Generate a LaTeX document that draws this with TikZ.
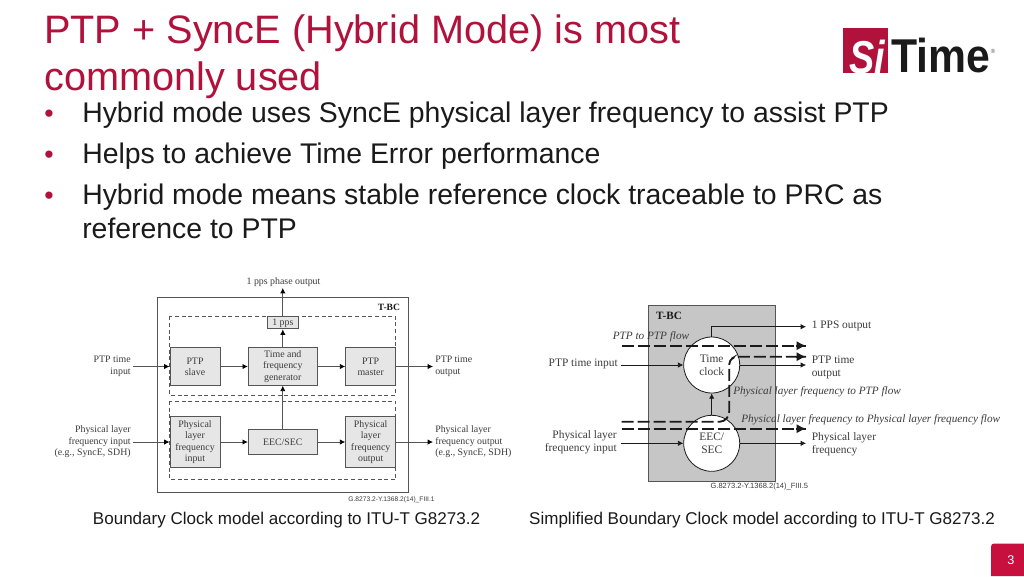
\documentclass[tikz,border=0pt]{standalone}
\usepackage{fontspec}
\setmainfont{Liberation Sans}
\newfontfamily\serifd{Liberation Serif}
\usetikzlibrary{arrows.meta,calc}
\definecolor{brand}{HTML}{B0123B}
\definecolor{pagered}{HTML}{C8103F}
\definecolor{ink}{HTML}{1A1A1A}
\definecolor{dgray}{HTML}{3C3C3C}
\definecolor{lgray}{HTML}{555555}
\definecolor{boxgray}{HTML}{E6E6E6}
\definecolor{panel}{HTML}{C6C6C6}
\tikzset{
 x=0.75pt,y=-0.75pt,
 titlet/.style={inner sep=0,anchor=base west,text=brand,font=\fontsize{29.75}{32}\selectfont},
 bullett/.style={inner sep=0,anchor=base west,text=ink,font=\fontsize{21.3}{24}\selectfont},
 capt/.style={inner sep=0,anchor=base,text=ink,font=\fontsize{12.77}{14}\selectfont},
 srf/.style={inner sep=0,text=dgray,font=\serifd\fontsize{7.4}{8.5}\selectfont,align=center},
 srfr/.style={inner sep=0,text=dgray,font=\serifd\fontsize{8.55}{9.8}\selectfont,align=center},
 flowt/.style={inner sep=0,text=dgray,font=\serifd\itshape\fontsize{8.42}{10}\selectfont,anchor=west},
 ref/.style={inner sep=0,text=dgray},
 gbox/.style={draw=lgray,line width=0.7pt,fill=boxgray,inner sep=0},
 dbox/.style={draw=lgray,line width=0.45pt,dash pattern=on 3pt off 2pt},
 conn/.style={draw=lgray,line width=0.6pt,-{Latex[length=4pt,width=4pt,fill=black,color=black]}},
 thin conn/.style={draw=ink,line width=0.5pt,-{Latex[length=4pt,width=4pt]}},
 flow/.style={draw=ink,line width=1.4pt,dash pattern=on 9pt off 3pt},
 flowhead/.style={draw=ink,line width=1.4pt,-{Latex[length=7pt,width=7pt]}},
 circ/.style={circle,draw=ink,line width=0.6pt,fill=white,minimum size=42pt,inner sep=0},
}
\begin{document}
\begin{tikzpicture}
\useasboundingbox[fill=white] (0,0) rectangle (1024,576);
% title & bullets
\node[titlet] (t1) at (44,43) {PTP + SyncE (Hybrid Mode) is most};
\node[titlet] (t2) at (44,90) {commonly used};
\foreach \y/\n in {122/a,163/b,204/c} \node[inner sep=0,anchor=base west,text=brand,font=\fontsize{20}{24}\selectfont] (d\n) at (44,\y) {•};
\node[bullett] (b1) at (82,122) {Hybrid mode uses SyncE physical layer frequency to assist PTP};
\node[bullett] (b2) at (82,163) {Helps to achieve Time Error performance};
\node[bullett] (b3) at (82,204) {Hybrid mode means stable reference clock traceable to PRC as};
\node[bullett] (b4) at (82,238) {reference to PTP};
% logo
\fill[brand] (843.3,28.3) rectangle (887.7,73.3);
\node[inner sep=0,anchor=base,text=white,font=\bfseries\itshape\fontsize{34.6}{35}\selectfont] (ls) at (867,73) {\scalebox{0.82}[1]{Si}};
\node[inner sep=0,anchor=base west,text=ink,font=\bfseries\fontsize{35.6}{36}\selectfont] (lt) at (891,72.3) {\scalebox{0.9}[1]{Time}};
\node[inner sep=0,anchor=base west,text=lgray,font=\fontsize{4.5}{5}\selectfont] (lr) at (990.5,53) {®};
% left diagram
\draw[draw=lgray,line width=0.6pt] (157.3,297.7) rectangle (408.3,492);
\draw[dbox] (169.7,316.3) rectangle (395.7,395);
\draw[dbox] (169.7,401) rectangle (395.7,479.7);
\node[inner sep=0,text=ink,font=\serifd\bfseries\fontsize{7.2}{8}\selectfont] (tbc1) at (389,307) {T-BC};
\node[gbox,minimum width=50pt*0.75,minimum height=37.6pt*0.75,srf,draw=lgray] (slave) at (195,366.5) {PTP\\slave};
\node[gbox,minimum width=69pt*0.75,minimum height=37.6pt*0.75,srf,draw=lgray] (gen) at (282.8,366.5) {Time and\\frequency\\generator};
\node[gbox,minimum width=50pt*0.75,minimum height=37.6pt*0.75,srf,draw=lgray] (master) at (370.7,366.5) {PTP\\master};
\node[gbox,minimum width=31pt*0.75,minimum height=12.3pt*0.75,srf,draw=lgray] (pps) at (282.8,322.8) {1 pps};
\node[gbox,minimum width=50pt*0.75,minimum height=50.6pt*0.75,srf,draw=lgray] (pin) at (195,442) {Physical\\layer\\frequency\\input};
\node[gbox,minimum width=69pt*0.75,minimum height=25pt*0.75,srf,draw=lgray] (eec) at (282.8,442) {EEC/SEC};
\node[gbox,minimum width=50pt*0.75,minimum height=50.6pt*0.75,srf,draw=lgray] (pout) at (370.7,442) {Physical\\layer\\frequency\\output};
\node[srf] (ppsout) at (283.5,282) {1 pps phase output};
\coordinate (ppstop) at (282.8,288);
\node[srf,align=right,anchor=east] (lptpin) at (131,366.3) {PTP time\\input};
\node[srf,align=right,anchor=east] (lphyin) at (131,441.8) {Physical layer\\frequency input\\(e.g., SyncE, SDH)};
\node[srf,align=left,anchor=west] (lptpout) at (435,366.3) {PTP time\\output};
\node[srf,align=left,anchor=west] (lphyout) at (435,441.8) {Physical layer\\frequency output\\(e.g., SyncE, SDH)};
\coordinate (ci1) at (132.7,366.5); \coordinate (ci2) at (132.7,442);
\coordinate (co1) at (433,366.5); \coordinate (co2) at (433,442);
\draw[conn] (ci1) -- (slave.west);
\draw[conn] (slave) -- (gen);
\draw[conn] (gen) -- (master);
\draw[conn] (master.east) -- (co1);
\draw[conn] (ci2) -- (pin.west);
\draw[conn] (pin) -- (eec);
\draw[conn] (eec) -- (pout);
\draw[conn] (pout.east) -- (co2);
\draw[conn] (eec) -- (gen);
\draw[conn] (gen) -- (pps);
\draw[conn] (pps) -- (ppstop);
\node[ref,font=\fontsize{5}{6}\selectfont] (r1) at (391.5,499.5) {G.8273.2-Y.1368.2(14)\_FIII.1};
% right diagram
\fill[panel,draw=lgray,line width=0.5pt] (648.3,305) rectangle (775.3,481.7);
\node[inner sep=0,text=ink,font=\serifd\bfseries\fontsize{8.4}{9}\selectfont] (tbc2) at (669,316) {T-BC};
\node[circ] (clock) at (711.7,365) {};
\node[circ] (sec) at (711.7,443.3) {};
\coordinate (ppsr) at (806,326.7);
\draw[thin conn] (clock.north) -- (711.7,326.7) -- (ppsr);
\draw[thin conn] (sec) -- (clock);
\coordinate (fa1) at (621.7,345.7); \coordinate (fa2) at (806,345.7);
\coordinate (fb1) at (621.7,421.7); \coordinate (fb2) at (806,356.7);
\coordinate (fc1) at (621.7,428.7); \coordinate (fc2) at (806,428.7);
\draw[flow] (fa1) -- (fa2);
\draw[flow,rounded corners=3pt] (fb1) -- (724,421.7) -- (729.3,415) -- (729.3,360) -- (735,356.7) -- (fb2);
\draw[flow] (fc1) -- (fc2);
\foreach \a in {a,b,c} \draw[flowhead] ($(f\a2)+(-10,0)$) -- (f\a2);
\node[srfr] (tc) at (711.7,365.5) {Time\\clock};
\node[srfr] (ts) at (711.7,443.5) {EEC/\\SEC};
\node[flowt] (f1) at (612.5,337) {PTP to PTP flow};
\node[flowt] (f2) at (733,392) {Physical layer frequency to PTP flow};
\node[flowt] (f3) at (741,419.3) {Physical layer frequency to Physical layer frequency flow};
\node[srfr,anchor=west] (o1) at (811.5,325.7) {1 PPS output};
\node[srfr,anchor=west,align=left] (o2) at (811.5,367) {PTP time\\output};
\node[srfr,anchor=west,align=left] (o3) at (811.5,444.5) {Physical layer\\frequency};
\node[srfr,anchor=east] (i1) at (618,364.3) {PTP time input};
\node[srfr,anchor=east,align=right] (i2) at (617,442.5) {Physical layer\\frequency input};
\coordinate (ci3) at (621,365); \coordinate (ci4) at (621,443.3);
\coordinate (co3) at (806,365); \coordinate (co4) at (806,443.3);
\draw[thin conn] (ci3) -- (clock.west);
\draw[thin conn] (ci4) -- (sec.west);
\draw[thin conn] (clock.east) -- (co3);
\draw[thin conn] (sec.east) -- (co4);
\node[ref,font=\fontsize{5.65}{7}\selectfont] (r2) at (759.3,486.5) {G.8273.2-Y.1368.2(14)\_FIII.5};
% captions
\node[capt] (c1) at (286.5,524) {Boundary Clock model according to ITU-T G8273.2};
\node[capt] (c2) at (762,524) {Simplified Boundary Clock model according to ITU-T G8273.2};
% page number
\fill[pagered] (1024,576) -- (991,576) -- (991,547) .. controls (991,544.5) and (992,543.5) .. (994.5,543.5) -- (1024,543.5) -- cycle;
\node[inner sep=0,text=white,font=\fontsize{9.5}{10}\selectfont] (pg) at (1011,560) {3};
\end{tikzpicture}
\end{document}
